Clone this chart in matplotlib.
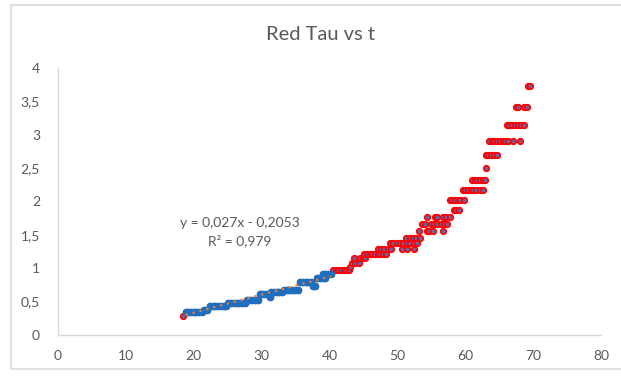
import matplotlib.pyplot as plt
import numpy as np
from matplotlib.patches import Rectangle

plt.rcParams['font.family'] = ['Lato', 'DejaVu Sans']

# tau steps: each level lists the t values that sit on it
levels = [
    (0.29, [18.4]),
    (0.35, [18.8, 19.2, 19.6, 20.0, 20.4, 20.8, 21.2]),
    (0.38, [21.5, 21.9]),
    (0.43, [22.4, 22.8, 23.2, 23.6, 24.0, 24.4, 24.8]),
    (0.48, [25.1, 25.5, 25.9, 26.3, 26.7, 27.1, 27.5]),
    (0.53, [27.8, 28.2, 28.6, 29.0, 29.4]),
    (0.62, [29.7, 30.1, 30.5, 30.9]),
    (0.575, [31.2]),
    (0.65, [31.4, 31.8, 32.2, 32.6, 33.0]),
    (0.68, [33.3, 33.7, 34.1, 34.5, 34.9, 35.3]),
    (0.80, [35.7, 36.1, 36.5, 36.9, 37.3]),
    (0.73, [37.5, 37.9]),
    (0.85, [38.2, 38.6, 39.0, 39.4]),
    (0.91, [39.0, 39.4, 39.8, 40.2]),
    (0.97, [40.5, 40.9, 41.3, 41.7, 42.1, 42.5, 42.8]),
    (1.02, [43.0]),
    (1.08, [43.3, 43.8, 44.3]),
    (1.15, [43.6, 44.5, 44.9, 45.2]),
    (1.22, [45.1, 45.5, 45.9, 46.3, 46.7, 47.1, 47.5, 47.9, 48.3]),
    (1.29, [47.1, 47.6, 48.1, 48.6, 49.1, 50.7, 51.4, 52.4]),
    (1.38, [48.9, 49.4, 49.9, 50.4, 50.9, 51.4, 51.9, 52.4, 52.9]),
    (1.46, [51.3, 51.8, 52.3, 52.8, 53.4]),
    (1.56, [53.2, 54.3, 54.7, 55.2, 56.7]),
    (1.66, [53.6, 54.0, 54.9, 55.4, 55.9, 56.4, 56.9, 57.3]),
    (1.77, [54.3, 55.5, 55.8, 56.7, 57.2, 57.7]),
    (1.88, [58.3, 58.7, 59.1]),
    (2.02, [57.7, 58.1, 58.5, 58.9, 59.3, 59.8]),
    (2.17, [59.6, 60.0, 60.4, 60.8, 61.2, 61.6, 62.1, 62.6]),
    (2.32, [61.0, 61.4, 61.8, 62.2, 62.6, 62.9]),
    (2.50, [63.0]),
    (2.69, [63.0, 63.4, 63.8, 64.2, 64.7]),
    (2.91, [63.5, 63.9, 64.3, 64.7, 65.1, 65.5, 65.9, 66.3, 67.0, 68.0]),
    (3.14, [66.1, 66.5, 66.9, 67.3, 67.7, 68.2, 68.6]),
    (3.41, [67.5, 67.7, 68.6, 69.1]),
    (3.73, [69.2, 69.5]),
]

# fitted part of the data and its linear trend
fit_range = (18.7, 40.3)
slope, intercept = 0.027, -0.2053
r2 = 0.979

xticks = [0, 10, 20, 30, 40, 50, 60, 70, 80]
yticks = [0, 0.5, 1, 1.5, 2, 2.5, 3, 3.5, 4]

t = np.array([x for y, xs in levels for x in xs])
tau = np.array([y for y, xs in levels for x in xs])
fit = (t >= fit_range[0]) & (t <= fit_range[1])

fig = plt.figure(figsize=(6.21, 3.77), dpi=100)
ax = fig.add_axes([58 / 621, 42 / 377, 543 / 621, 267 / 377])

# chart frame
fig.patches.append(Rectangle((11 / 621, 8 / 377), 1.0, 364 / 377,
                             transform=fig.transFigure, fill=False,
                             edgecolor='#d9d9d9', lw=1.2))

ax.plot(t, tau, 'o', ms=4, mfc='#7060a0', mec='#ff0000', mew=1.2,
        ls='none', zorder=3)
ax.plot(t[fit], tau[fit], 'o', ms=4.5, mfc='#1f6fc0', mec='#1f6fc0',
        ls='none', zorder=4)
tx = np.array([t[fit].min(), t[fit].max()])
ax.plot(tx, slope * tx + intercept, color='#ed7d31', ls=(0, (1, 2.2)),
        lw=1.6, zorder=5)

grey = '#595959'
ax.text(26.8, 1.68, 'y = 0,027x - 0,2053', ha='center', va='center',
        color=grey, fontsize=10)
ax.text(26.8, 1.41, 'R² = %s' % str(r2).replace('.', ','), ha='center',
        va='center', color=grey, fontsize=10)

ax.set_xlim(0, 80)
ax.set_ylim(0, 4)
ax.set_xticks(xticks)
ax.set_xticklabels([str(v) for v in xticks])
ax.set_yticks(yticks)
ax.set_yticklabels([('%g' % v).replace('.', ',') for v in yticks])
ax.tick_params(length=0, colors=grey, labelsize=10)
ax.tick_params(axis='x', pad=11)
ax.tick_params(axis='y', pad=13)
for s in ['top', 'right']:
    ax.spines[s].set_visible(False)
for s in ['left', 'bottom']:
    ax.spines[s].set_color('#d9d9d9')
    ax.spines[s].set_linewidth(1.0)

fig.text(320 / 621, 1 - 35 / 377, 'Red Tau vs t', ha='center', va='center',
         color=grey, fontsize=14.5)

fig.savefig('out.png', dpi=100)
